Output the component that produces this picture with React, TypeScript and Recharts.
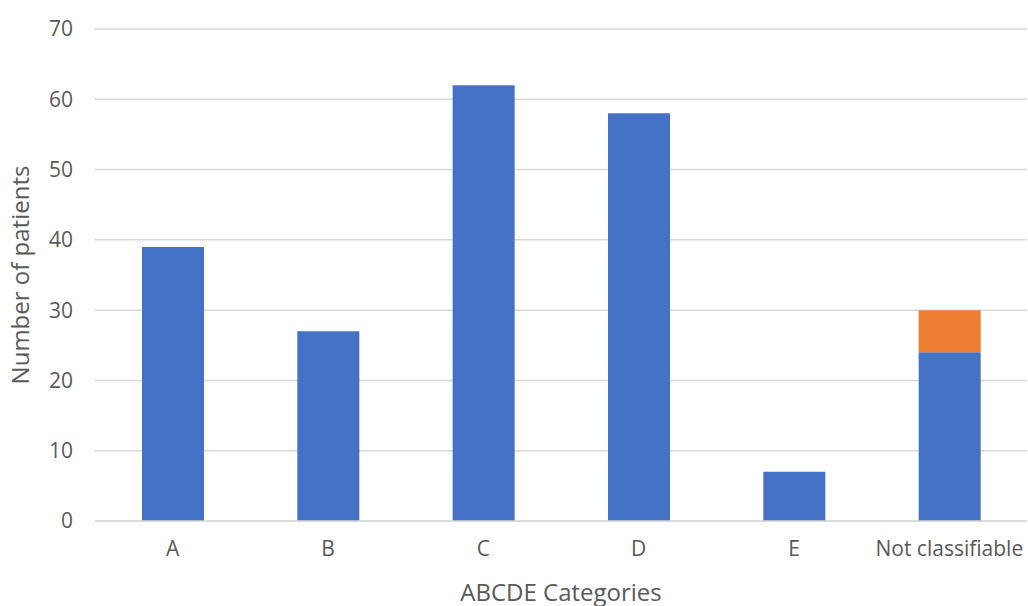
import { Bar, BarChart, CartesianGrid, Label, XAxis, YAxis } from 'recharts';

const categories = ['A', 'B', 'C', 'D', 'E', 'Not classifiable'];
const classified = [39, 27, 62, 58, 7, 24];
const unclassified = [0, 0, 0, 0, 0, 6];
const yTicks = [0, 10, 20, 30, 40, 50, 60, 70];

const rows = categories.map((name, i) => ({
  name,
  classified: classified[i],
  unclassified: unclassified[i],
}));

const FONT = "'Open Sans', 'Liberation Sans', sans-serif";
const TEXT = '#595959';
const GRID = '#d9d9d9';

export default function App() {
  return (
    <div style={{ position: 'absolute', left: 0, top: 0, background: '#fff' }}>
      <BarChart
        width={1028}
        height={606}
        data={rows}
        margin={{ top: 29, right: 1, bottom: 0, left: 0 }}
        barSize={62}
      >
        <CartesianGrid vertical={false} stroke={GRID} strokeWidth={1.5} />
        <XAxis
          dataKey="name"
          height={85}
          tickLine={false}
          axisLine={{ stroke: GRID, strokeWidth: 1.5 }}
          tickMargin={14}
          tick={{ fill: TEXT, fontSize: 21, fontFamily: FONT }}
        >
          <Label
            value="ABCDE Categories"
            position="insideBottom"
            offset={5}
            fill={TEXT}
            fontSize={24}
            fontFamily={FONT}
          />
        </XAxis>
        <YAxis
          width={95}
          domain={[0, 70]}
          ticks={yTicks}
          interval={0}
          tickLine={false}
          axisLine={false}
          tickMargin={16}
          tick={{ fill: TEXT, fontSize: 21, fontFamily: FONT }}
        >
          <Label
            value="Number of patients"
            angle={-90}
            position="insideLeft"
            offset={20}
            fill={TEXT}
            fontSize={24}
            fontFamily={FONT}
            style={{ textAnchor: 'middle' }}
          />
        </YAxis>
        <Bar dataKey="classified" stackId="n" fill="#4472C4" isAnimationActive={false} />
        <Bar dataKey="unclassified" stackId="n" fill="#ED7D31" isAnimationActive={false} />
      </BarChart>
    </div>
  );
}
